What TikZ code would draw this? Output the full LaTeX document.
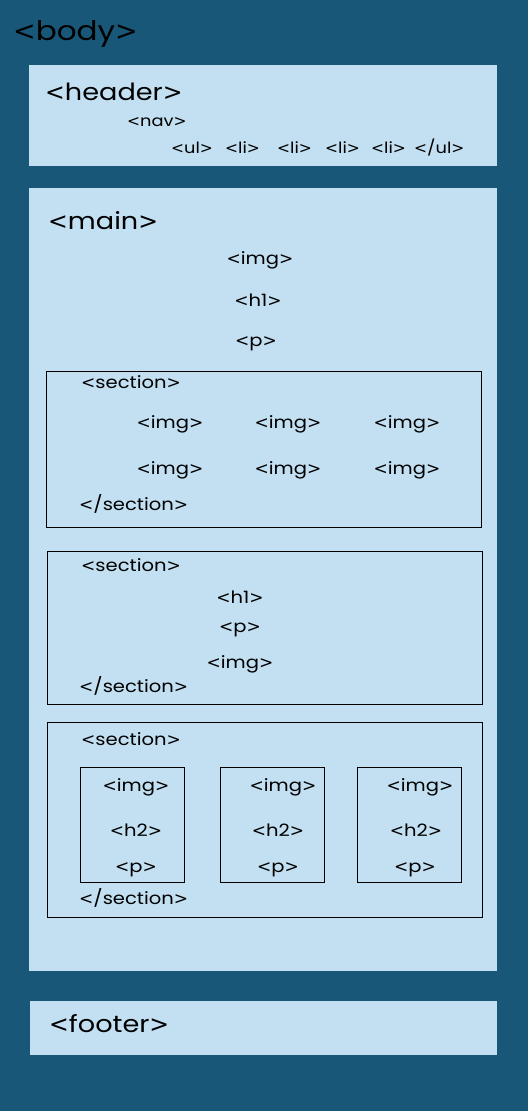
\documentclass[tikz,border=0pt]{standalone}
\usepackage{fontspec}
\setmainfont{Poppins}[FakeStretch=1.15]
\newfontfamily\chevfont{DejaVu Sans}
\newcommand{\htag}[1]{{\chevfont<}#1{\chevfont>}}
\usetikzlibrary{positioning}
\definecolor{bodyblue}{RGB}{25,87,120}
\definecolor{paleblue}{RGB}{194,224,242}

\begin{document}
\begin{tikzpicture}[x=1pt,y=-1pt,
  panel/.style={fill=paleblue},
  frame/.style={draw=black,line width=0.9pt},
  hugetag/.style={font=\fontsize{27}{27}\selectfont,anchor=base west,inner sep=0pt},
  bigtag/.style={font=\fontsize{23.6}{24}\selectfont,anchor=base west,inner sep=0pt},
  tag/.style={font=\fontsize{17}{17}\selectfont,anchor=base,inner sep=0pt},
  lefttag/.style={tag,anchor=base west},
  navtag/.style={font=\fontsize{15.5}{16}\selectfont,anchor=base west,inner sep=0pt}]
% page
\fill[bodyblue] (0,0) rectangle (528,1111);
\node[hugetag] (body) at (13,40) {\htag{body}};
% header
\fill[panel] (29,65) rectangle (497,166);
\node[bigtag] (header) at (45,100) {\htag{header}};
\node[navtag] (nav) at (127,126) {\htag{nav}};
\foreach \x/\t/\n in {171/{ul}/ul, 225/{li}/lia, 277/{li}/lib, 325/{li}/lic, 371/{li}/lid, 414/{/ul}/ulend}
  \node[navtag] (\n) at (\x,153) {\htag{\t}};
% main
\fill[panel] (29,188) rectangle (497,971);
\node[bigtag] (main) at (48,229) {\htag{main}};
\node[tag] (mainimg) at (260,264) {\htag{img}};
\node[tag] (mainhone) at (258,306) {\htag{h1}};
\node[tag] (mainp) at (256,346) {\htag{p}};
% section with image grid
\draw[frame] (46,371) rectangle (481,527);
\node[lefttag] (gridopen) at (81,388) {\htag{section}};
\foreach \x [count=\i] in {170,288,407}{
  \node[tag] (gridimg\i a) at (\x,428) {\htag{img}};
  \node[tag] (gridimg\i b) at (\x,474) {\htag{img}};
}
\node[lefttag] (gridclose) at (79,510) {\htag{/section}};
% section with heading
\draw[frame] (47,551) rectangle (482,704);
\node[lefttag] (introopen) at (81,571) {\htag{section}};
\node[tag] (introhone) at (240,603) {\htag{h1}};
\node[tag] (introp) at (240,632) {\htag{p}};
\node[tag] (introimg) at (240,668) {\htag{img}};
\node[lefttag] (introclose) at (79,692) {\htag{/section}};
% section with cards
\draw[frame] (47,722) rectangle (482,917);
\node[lefttag] (cardsopen) at (81,745) {\htag{section}};
\foreach \l/\ix/\hx/\px [count=\i] in {80/136/136/136, 220/283/278/278, 357/420/416/415}{
  \draw[frame] (\l,767) rectangle ++(104,115);
  \node[tag] (cardimg\i) at (\ix,791) {\htag{img}};
  \node[tag] (cardhtwo\i) at (\hx,836) {\htag{h2}};
  \node[tag] (cardp\i) at (\px,872) {\htag{p}};
}
\node[lefttag] (cardsclose) at (79,904) {\htag{/section}};
% footer
\fill[panel] (30,1001) rectangle (497,1055);
\node[bigtag] (footer) at (49,1032) {\htag{footer}};
\end{tikzpicture}
\end{document}
